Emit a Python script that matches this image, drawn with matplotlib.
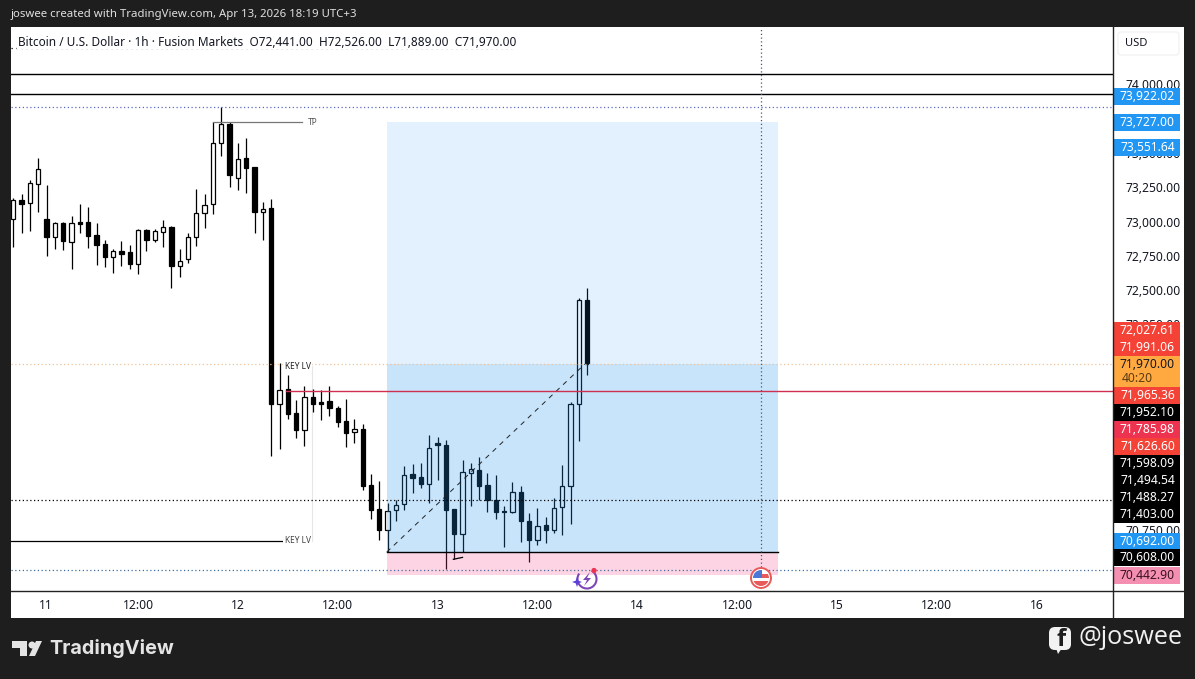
import matplotlib
matplotlib.use('Agg')
import matplotlib.pyplot as plt
from matplotlib.patches import Rectangle, Circle, Polygon, FancyBboxPatch, Arc

# hourly candles
opens = [73015, 73154, 73132, 73270, 73015, 72889, 72986, 72852, 72996, 72996,
         72899, 72833, 72743, 72782, 72775, 72692, 72935, 72867, 72925, 72957,
         72677, 72724, 72884, 73059, 73125, 73576, 73708, 73319, 73460, 73394,
         73073, 73098, 71667, 71776, 71601, 71482, 71720, 71682, 71691, 71638,
         71546, 71463, 71485, 71077, 70902, 70748, 70894, 70938, 71157, 71135,
         71089, 71383, 71371, 70902, 70725, 71169, 71186, 71077, 70970, 70890,
         70880, 71026, 70815, 70676, 70786, 70749, 70917, 71070, 71668, 72427]
closes = [73154, 73129, 73278, 73385, 72889, 72986, 72860, 72986, 72984, 72896,
          72830, 72743, 72782, 72765, 72692, 72935, 72867, 72928, 72957, 72677,
          72714, 72884, 73059, 73122, 73576, 73708, 73341, 73457, 73392, 73071,
          73093, 71670, 71774, 71599, 71482, 71718, 71672, 71672, 71643, 71541,
          71460, 71485, 71074, 70899, 70753, 70892, 70936, 71149, 71132, 71089,
          71346, 71373, 70895, 70725, 71172, 71194, 71075, 70968, 70885, 70880,
          71026, 70819, 70676, 70783, 70749, 70914, 71070, 71668, 72426, 71961]
highs = [73168, 73200, 73302, 73460, 73263, 72993, 72993, 73039, 73127, 73105,
         72986, 72864, 72799, 72857, 72828, 72942, 72945, 72945, 73010, 72967,
         72799, 72920, 73236, 73200, 73722, 73832, 73727, 73569, 73608, 73394,
         73146, 73164, 71971, 71881, 71699, 71801, 71776, 71771, 71803, 71655,
         71706, 71563, 71521, 71159, 71108, 70945, 70970, 71217, 71232, 71239,
         71444, 71429, 71408, 70902, 71262, 71242, 71284, 71167, 71152, 70926,
         71104, 71072, 70873, 70910, 70846, 70982, 71223, 71687, 72440, 72515]
lows = [72816, 72913, 72933, 73071, 72750, 72801, 72792, 72656, 72918, 72809,
        72685, 72670, 72626, 72677, 72653, 72619, 72784, 72852, 72816, 72517,
        72597, 72699, 72823, 72954, 73056, 73479, 73253, 73231, 73210, 72918,
        72867, 71291, 71344, 71560, 71424, 71366, 71611, 71553, 71582, 71504,
        71358, 71388, 71045, 70834, 70680, 70593, 70819, 70899, 71023, 71057,
        70950, 71118, 70467, 70538, 70594, 70926, 70970, 70880, 70829, 70630,
        70878, 70662, 70518, 70640, 70654, 70727, 70718, 70793, 71403, 71881]

y_ticks = [74000, 73500, 73250, 73000, 72750, 72500, 72250, 70750]
x_ticks = [3.9, 15, 27, 39, 51, 63, 75, 87, 99, 111, 123]
x_labels = ['11', '12:00', '12', '12:00', '13', '12:00', '14', '12:00', '15', '12:00', '16']

# drawn levels
black_levels = [74075, 73926]
top_dotted = 73835
price_line = 71961
red_level = 71768
mid_dotted = 70970
low_dotted = 70463
target = 73725
entry = 70591
stop = 70423
key_lv = 70672
key_lv_top = 71947

tag_labels = ['73,922.02', '73,727.00', '73,551.64', '72,027.61', '71,991.06', '71,965.36', '71,952.10',
              '71,785.98', '71,626.60', '71,598.09', '71,494.54', '71,488.27', '71,403.00',
              '70,692.00', '70,608.00', '70,442.90']
tag_colors = ['#2196f3', '#2196f3', '#2196f3', '#f44336', '#f44336', '#f44336', '#000000',
              '#ee3350', '#f44336', '#000000', '#000000', '#000000', '#000000',
              '#2196f3', '#000000', '#f48fb1']
tag_tops = [88, 114, 139, 322, 338.5, 387, 404, 421, 438, 455, 472, 489, 506, 533, 549, 566.7]

DARK = '#1e1e1e'
INK = '#131722'

fig = plt.figure(figsize=(11.95, 6.79), dpi=100, facecolor=DARK)
plt.rcParams['font.family'] = ['Noto Sans', 'DejaVu Sans']

# white panel behind everything
bg = fig.add_axes([0, 0, 1, 1], zorder=0)
bg.set_xlim(0, 1195)
bg.set_ylim(679, 0)
bg.axis('off')
bg.add_patch(Rectangle((11, 27), 1173, 591, fc='white', ec='none'))

ax = fig.add_axes([11 / 1195, 1 - 591 / 679, 1102 / 1195, 564 / 679], zorder=1)
ax.patch.set_alpha(0)
ax.set_xlim(-0.28, 132.2)
ax.set_ylim(70307, 74418)
for side in ['top', 'left', 'bottom', 'right']:
    ax.spines[side].set_visible(False)
ax.yaxis.tick_right()
ax.set_yticks(y_ticks)
ax.set_yticklabels([f'{v:,.2f}' for v in y_ticks], fontsize=8.7, color=INK)
ax.set_xticks(x_ticks)
ax.set_xticklabels(x_labels, fontsize=8.7, color=INK)
ax.tick_params(length=0, axis='y', pad=9)
ax.tick_params(length=0, axis='x', pad=6)

# candles
for i in range(len(opens)):
    up = closes[i] >= opens[i]
    ax.vlines(i, lows[i], highs[i], color='black', lw=0.9, zorder=2)
    ax.bar(i, abs(closes[i] - opens[i]), bottom=min(opens[i], closes[i]), width=0.52,
           color='white' if up else 'black', edgecolor='black', lw=0.9, zorder=3)

# position tool sits on top of the candles
box_left, box_right = 44.9, 91.9
ax.add_patch(Rectangle((box_left, price_line), box_right - box_left, target - price_line,
                       fc='#2196f3', alpha=0.13, ec='none', zorder=4))
ax.add_patch(Rectangle((box_left, entry), box_right - box_left, price_line - entry,
                       fc='#2196f3', alpha=0.25, ec='none', zorder=4))
ax.add_patch(Rectangle((box_left, stop), box_right - box_left, entry - stop,
                       fc='#f23f80', alpha=0.22, ec='none', zorder=4))
ax.plot([box_left, box_right], [entry, entry], color='black', lw=1, zorder=5)
ax.plot([box_left, 68.7], [entry, price_line], color='#222222', lw=0.7, ls=(0, (5, 5)), zorder=5)

for level in black_levels:
    ax.axhline(level, color='black', lw=1, zorder=5)
ax.axhline(top_dotted, color='#5c6bc0', lw=0.9, ls=(0, (1, 2)), zorder=5)
ax.axhline(price_line, color='#eec39a', lw=0.9, ls=(0, (1, 2)), zorder=5)
ax.axhline(mid_dotted, color='black', lw=0.9, ls=(0, (1, 2)), zorder=5)
ax.axhline(low_dotted, color='#3f6f9f', lw=0.9, ls=(0, (1, 2)), zorder=5)
ax.plot([32.8, 132.2], [red_level, red_level], color='#d0304f', lw=1, zorder=5)
ax.plot([89.9, 89.9], [70480, 74418], color='#3a5a7a', lw=0.9, ls=(0, (1, 2)), zorder=5)

# labels on the left part of the chart
ax.plot([24, 34.7], [target, target], color='#777777', lw=0.9, zorder=5)
ax.text(36, target, 'TP', fontsize=6, color='#555555', ha='center', va='center', zorder=6)
ax.plot([-0.28, 32.4], [key_lv, key_lv], color='black', lw=0.9, zorder=5)
ax.plot([35.9, 35.9], [key_lv, key_lv_top], color='#e6e6e6', lw=0.8, zorder=1)
ax.text(34.2, key_lv, 'KEY LV', fontsize=6, color='#444444', ha='center', va='center', zorder=6,
        bbox=dict(fc='white', ec='none', pad=1))
ax.text(34.2, key_lv_top, 'KEY LV', fontsize=6, color='#222222', ha='center', va='center', zorder=6,
        bbox=dict(fc='white', ec='none', pad=1))
ax.plot([52.9, 54], [70538, 70552], color='black', lw=0.9, zorder=5)

# chrome, in pixels
fg = fig.add_axes([0, 0, 1, 1], zorder=2)
fg.patch.set_alpha(0)
fg.set_xlim(0, 1195)
fg.set_ylim(679, 0)
fg.axis('off')

fg.plot([11, 1184], [591, 591], color='#222222', lw=1)
fg.plot([1113, 1113], [27, 618], color='#222222', lw=1)
fg.text(11, 15, 'joswee created with TradingView.com, Apr 13, 2026 18:19 UTC+3',
        fontsize=8.2, color='#e0e0e0', va='center')
fg.plot([11, 512], [47.5, 47.5], color='black', lw=0.9, ls=(0, (1, 3)))
fg.text(18, 42, 'Bitcoin / U.S. Dollar · 1h · Fusion Markets  O72,441.00  H72,526.00  L71,889.00  C71,970.00',
        fontsize=8.5, color=INK, va='center', bbox=dict(fc='white', ec='none', pad=0.6))

fg.add_patch(FancyBboxPatch((1118, 32), 61, 23, boxstyle='round,pad=0,rounding_size=3', fc='white', ec='#f0f0f0', lw=0.8))
fg.text(1136, 44, 'USD', fontsize=8, color=INK, va='center', ha='center')

# price tags on the right scale
for label, color, top in zip(tag_labels, tag_colors, tag_tops):
    fg.add_patch(Rectangle((1114, top), 66, 17, fc=color, ec='none'))
    txt = '#3a1020' if color == '#f48fb1' else 'white'
    fg.text(1175, top + 8.7, label, fontsize=8.7, color=txt, ha='right', va='center')
fg.add_patch(Rectangle((1114, 356), 66, 31, fc='#ffa940', ec='none'))
fg.text(1175, 364, '71,970.00', fontsize=8.7, color=INK, ha='right', va='center')
fg.text(1122, 378, '40:20', fontsize=8.7, color='#5a3c10', ha='left', va='center')

# event icons along the bottom
fg.add_patch(Arc((587, 579), 19, 19, theta1=-60, theta2=215, color='#7e46b4', lw=1.5))
fg.add_patch(Polygon([(590, 572), (583, 580), (587, 580), (584, 586), (591, 578), (587, 578)], fc='#7e46b4', ec='none'))
fg.add_patch(Polygon([(577, 577), (578.3, 580.7), (582, 582), (578.3, 583.3), (577, 587), (575.7, 583.3), (572, 582), (575.7, 580.7)],
                     fc='#5a3fd8', ec='none'))
fg.add_patch(Circle((594, 570.5), 2.6, fc='#ee3350', ec='none'))

fg.add_patch(Circle((761, 578), 10, fc='white', ec='#e85a5a', lw=1.4))
flag_clip = Circle((761, 578), 8, transform=fg.transData)
for part in [Rectangle((753, 570), 9, 8, fc='#4a78d8', ec='none'),
             Rectangle((762, 574), 8, 3.5, fc='#e85a5a', ec='none'),
             Rectangle((753, 581), 16, 5, fc='#e85a5a', ec='none')]:
    fg.add_patch(part)
    part.set_clip_path(flag_clip)

# footer
logo = '#e4e4e4'
fg.add_patch(Polygon([(12, 641), (27, 641), (27, 656), (20, 656), (20, 648), (12, 648)], fc=logo, ec='none'))
fg.add_patch(Circle((32, 645), 3.5, fc=logo, ec='none'))
fg.add_patch(Polygon([(35, 656), (29, 656), (36, 641), (42, 641)], fc=logo, ec='none'))
fg.text(49, 649, 'TradingView', fontsize=14.3, family='Inter', weight='bold', color=logo, va='center')

fg.add_patch(FancyBboxPatch((1049, 627), 22, 23, boxstyle='round,pad=0,rounding_size=6', fc='#f2f2f2', ec='none'))
fg.add_patch(Polygon([(1056, 648), (1062, 648), (1058, 654)], fc='#f2f2f2', ec='none'))
fg.text(1061, 640, 'f', fontsize=17, family='Open Sans', weight='bold', color=DARK, ha='center', va='center')
fg.text(1079, 638, '@joswee', fontsize=18.2, family='Open Sans', color='#f2f2f2', va='center')

fig.savefig('out.png', dpi=100, facecolor=DARK)
